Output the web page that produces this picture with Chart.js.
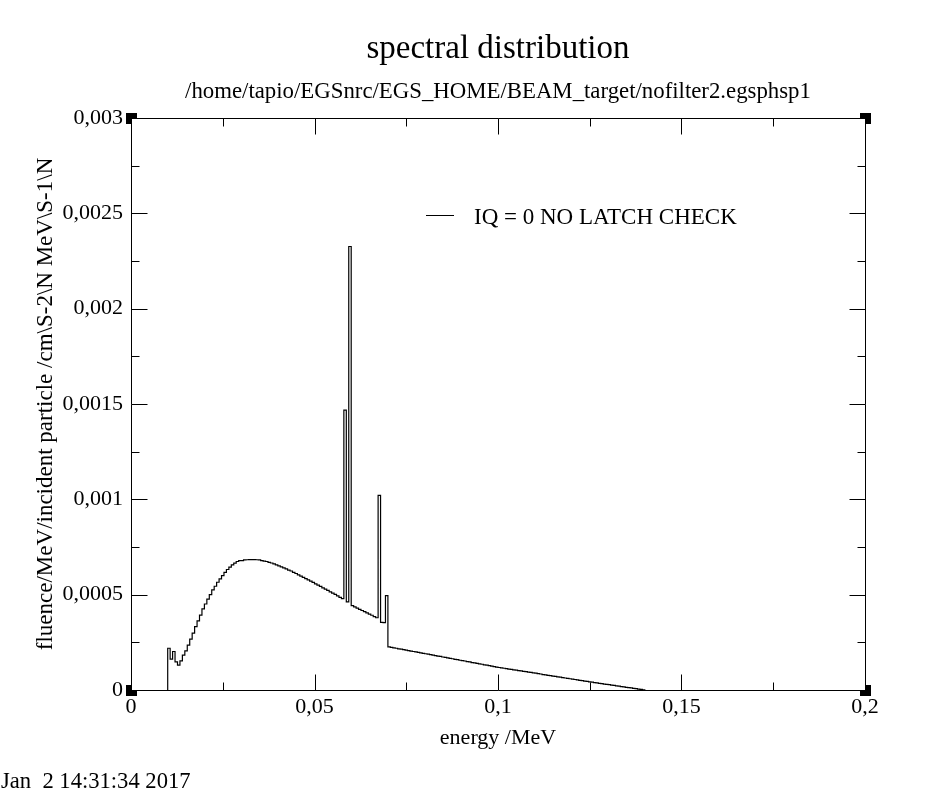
<!DOCTYPE html>
<html><head><meta charset="utf-8">
<script src="https://cdn.jsdelivr.net/npm/chart.js@4.4.0/dist/chart.umd.min.js"></script>
<style>html,body{margin:0;padding:0;background:#fff;} canvas{display:block;}</style>
</head><body>
<canvas id="c" width="927" height="800"></canvas>
<script>
const titleText = 'spectral distribution';
const subtitleText = '/home/tapio/EGSnrc/EGS_HOME/BEAM_target/nofilter2.egsphsp1';
const xAxisTitle = 'energy /MeV';
const yAxisTitle = 'fluence/MeV/incident particle /cm\\S-2\\N MeV\\S-1\\N';
const seriesLabel = 'IQ = 0 NO LATCH CHECK';
const dateStamp = 'Jan  2 14:31:34 2017';

const xTickValues = [0, 0.05, 0.1, 0.15, 0.2];
const xTickLabels = ['0', '0,05', '0,1', '0,15', '0,2'];
const xMinorValues = [0.025, 0.075, 0.125, 0.175];
const yTickValues = [0, 0.0005, 0.001, 0.0015, 0.002, 0.0025, 0.003];
const yTickLabels = ['0', '0,0005', '0,001', '0,0015', '0,002', '0,0025', '0,003'];
const yMinorValues = [0.00025, 0.00075, 0.00125, 0.00175, 0.00225, 0.00275];

// histogram bins: first bin lower edge (MeV) and bin width (MeV)
const binLow = 0.01;
const binWidth = 0.2 / 300;
// fluence per bin
const fluence = [
  0.000219,0.000162,0.000202,0.000147,0.000130,0.000153,0.000183,0.000205,0.000235,0.000267,
  0.000298,0.000332,0.000362,0.000393,0.000425,0.000451,0.000477,0.000500,0.000525,0.000544,
  0.000565,0.000583,0.000600,0.000617,0.000632,0.000644,0.000656,0.000665,0.000674,0.000678,
  0.000679,0.000682,0.000683,0.000684,0.000684,0.000684,0.000683,0.000682,0.000679,0.000676,
  0.000674,0.000669,0.000666,0.000661,0.000656,0.000651,0.000646,0.000640,0.000635,0.000629,
  0.000624,0.000617,0.000611,0.000604,0.000597,0.000591,0.000584,0.000578,0.000571,0.000564,
  0.000557,0.000550,0.000543,0.000536,0.000529,0.000522,0.000515,0.000508,0.000501,0.000494,
  0.000486,0.000479,0.001468,0.000462,0.002326,0.000442,0.000436,0.000429,0.000423,0.000417,
  0.000411,0.000404,0.000398,0.000392,0.000385,0.000379,0.001021,0.000355,0.000353,0.000495,
  0.000226,0.000224,0.000221,0.000219,0.000216,0.000214,0.000212,0.000209,0.000207,0.000204,
  0.000202,0.000200,0.000197,0.000195,0.000192,0.000190,0.000188,0.000185,0.000183,0.000180,
  0.000178,0.000176,0.000173,0.000171,0.000168,0.000166,0.000164,0.000161,0.000159,0.000156,
  0.000154,0.000152,0.000149,0.000147,0.000144,0.000142,0.000140,0.000137,0.000135,0.000132,
  0.000130,0.000128,0.000125,0.000123,0.000120,0.000118,0.000116,0.000114,0.000112,0.000110,
  0.000108,0.000106,0.000104,0.000102,0.000100,0.000098,0.000096,0.000094,0.000092,0.000090,
  0.000088,0.000086,0.000084,0.000081,0.000079,0.000077,0.000075,0.000073,0.000071,0.000069,
  0.000067,0.000065,0.000063,0.000061,0.000059,0.000057,0.000055,0.000053,0.000051,0.000049,
  0.000047,0.000045,0.000043,0.000041,0.000039,0.000037,0.000035,0.000033,0.000031,0.000030,
  0.000028,0.000026,0.000024,0.000022,0.000020,0.000018,0.000016,0.000014,0.000012,0.000011,
  0.000009,0.000007,0.000005,0.000003,0.000001
];

const FONT = '"Liberation Serif", "Times New Roman", serif';

// build histogram outline points (bin edges) from the arrays
const pts = [{x: binLow, y: 0}];
fluence.forEach((v, i) => {
  const lo = binLow + i * binWidth, hi = binLow + (i + 1) * binWidth;
  pts.push({x: lo, y: v});
  pts.push({x: hi, y: v});
});
pts.push({x: binLow + fluence.length * binWidth, y: 0});

function labelFor(values, labels, v) {
  for (let i = 0; i < values.length; i++) if (Math.abs(values[i] - v) < 1e-9) return labels[i];
  return '';
}

const decor = {
  id: 'decor',
  afterDraw(chart) {
    const {ctx, chartArea} = chart;
    const xs = chart.scales.x, ys = chart.scales.y;
    const L = Math.round(chartArea.left), R = Math.round(chartArea.right);
    const T = Math.round(chartArea.top), B = Math.round(chartArea.bottom);
    ctx.save();
    ctx.strokeStyle = '#000';
    ctx.lineWidth = 1;
    ctx.beginPath();
    ctx.rect(L + 0.5, T + 0.5, R - L, B - T);
    ctx.stroke();
    const major = 16, minor = 8;
    ctx.beginPath();
    const xt = (v, len) => {
      const p = Math.round(xs.getPixelForValue(v)) + 0.5;
      ctx.moveTo(p, B + 0.5); ctx.lineTo(p, B + 0.5 - len);
      ctx.moveTo(p, T + 0.5); ctx.lineTo(p, T + 0.5 + len);
    };
    const yt = (v, len) => {
      const p = Math.round(ys.getPixelForValue(v)) + 0.5;
      ctx.moveTo(L + 0.5, p); ctx.lineTo(L + 0.5 + len, p);
      ctx.moveTo(R + 0.5, p); ctx.lineTo(R + 0.5 - len, p);
    };
    xTickValues.forEach(v => xt(v, major));
    xMinorValues.forEach(v => xt(v, minor));
    yTickValues.forEach(v => yt(v, major));
    yMinorValues.forEach(v => yt(v, minor));
    ctx.stroke();
    // corner markers
    const corners = [[L, T, 1, 1], [R, T, -1, 1], [L, B, 1, -1], [R, B, -1, -1]];
    corners.forEach(([cx, cy, dx, dy]) => {
      ctx.fillStyle = '#000';
      ctx.fillRect(cx - 5, cy - 5, 11, 11);
      ctx.fillStyle = '#fff';
      const wx = dx > 0 ? cx + 1 : cx - 5;
      const wy = dy > 0 ? cy + 1 : cy - 5;
      ctx.fillRect(wx, wy, 5, 5);
    });
    // legend
    ctx.beginPath();
    ctx.moveTo(L + 295, T + 97.5);
    ctx.lineTo(L + 323, T + 97.5);
    ctx.stroke();
    ctx.fillStyle = '#000';
    ctx.font = '23px ' + FONT;
    ctx.textBaseline = 'middle';
    ctx.textAlign = 'left';
    ctx.fillText(seriesLabel, L + 343, T + 99.5);
    // date stamp
    ctx.font = '22.6px ' + FONT;
    ctx.textBaseline = 'alphabetic';
    ctx.fillText(dateStamp, 1, 788);
    ctx.restore();
  }
};

new Chart(document.getElementById('c'), {
  type: 'line',
  data: {
    datasets: [{
      label: seriesLabel,
      data: pts,
      borderColor: '#000',
      borderWidth: 1.2,
      pointRadius: 0,
      fill: false,
      tension: 0
    }]
  },
  options: {
    responsive: false,
    animation: false,
    devicePixelRatio: 1,
    layout: {padding: {left: 0, right: 62, top: 0, bottom: 41}},
    plugins: {
      legend: {display: false},
      tooltip: {enabled: false},
      title: {
        display: true, text: titleText, color: '#000', fullSize: false,
        font: {family: FONT, size: 33, weight: 'normal'},
        padding: {top: 30, bottom: 0}
      },
      subtitle: {
        display: true, text: subtitleText, color: '#000', fullSize: false,
        font: {family: FONT, size: 22.8, weight: 'normal'},
        padding: {top: 9, bottom: 12}
      }
    },
    scales: {
      x: {
        type: 'linear', min: 0, max: 0.2,
        afterBuildTicks: s => { s.ticks = xTickValues.map(v => ({value: v})); },
        afterFit: s => { s.height = 69; },
        grid: {display: false, drawTicks: false},
        border: {display: false},
        ticks: {
          color: '#000', padding: 4, maxRotation: 0, autoSkip: false,
          font: {family: FONT, size: 22},
          callback: v => labelFor(xTickValues, xTickLabels, v)
        },
        title: {
          display: true, text: xAxisTitle, color: '#000',
          font: {family: FONT, size: 22},
          padding: {top: 0, bottom: 8}
        }
      },
      y: {
        type: 'linear', min: 0, max: 0.003,
        afterBuildTicks: s => { s.ticks = yTickValues.map(v => ({value: v})); },
        afterFit: s => { s.width = 131; },
        grid: {display: false, drawTicks: false},
        border: {display: false},
        ticks: {
          color: '#000', padding: 8, autoSkip: false,
          font: {family: FONT, size: 22},
          callback: v => labelFor(yTickValues, yTickLabels, v)
        },
        title: {
          display: true, text: yAxisTitle, color: '#000',
          font: {family: FONT, size: 23},
          padding: {top: 32, bottom: 0}
        }
      }
    }
  },
  plugins: [decor]
});
</script>
</body></html>
